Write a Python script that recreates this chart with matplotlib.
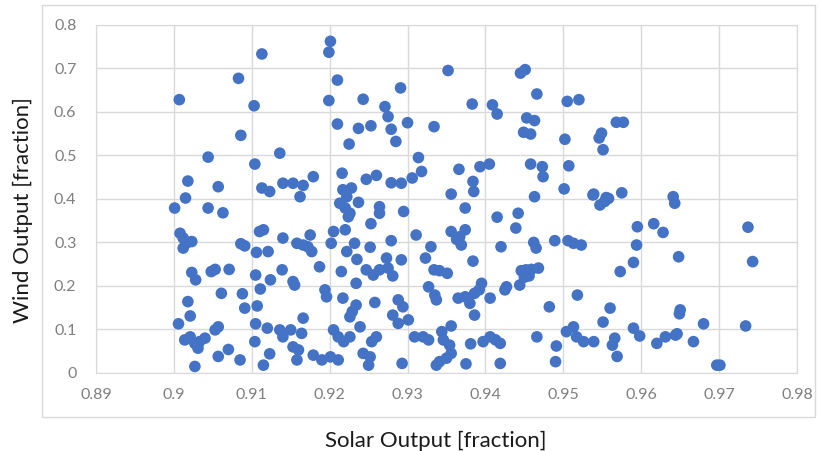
import numpy as np
import matplotlib.pyplot as plt
from matplotlib.patches import Rectangle

plt.rcParams['font.family'] = ['Lato', 'DejaVu Sans']

# solar vs wind output pairs
solar = [
    0.9113, 0.9083, 0.9007, 0.9103, 0.9086, 0.9044, 0.9136, 0.9104, 0.9018, 0.9057, 0.9113, 0.9123, 0.9140, 0.9015,
    0.9201, 0.9199, 0.9210, 0.9199, 0.9243, 0.9291, 0.9271, 0.9275, 0.9279, 0.9285, 0.9300, 0.9210, 0.9237, 0.9253,
    0.9225, 0.9314, 0.9216, 0.9179, 0.9153, 0.9166, 0.9162, 0.9247, 0.9260, 0.9279, 0.9292, 0.9306, 0.9217, 0.9228, 0.9222,
    0.9352, 0.9445, 0.9451, 0.9466, 0.9383, 0.9409, 0.9415, 0.9453, 0.9463, 0.9449, 0.9458, 0.9334, 0.9318, 0.9366,
    0.9393, 0.9405, 0.9384, 0.9385, 0.9356, 0.9458, 0.9473, 0.9474, 0.9463,
    0.9505, 0.9520, 0.9568, 0.9577, 0.9549, 0.9546, 0.9551, 0.9502, 0.9507, 0.9501, 0.9539, 0.9555, 0.9575, 0.9641,
    0.9001, 0.9044, 0.9063, 0.9008, 0.9012, 0.9016, 0.9023, 0.9012, 0.9110, 0.9115, 0.9140, 0.9086, 0.9091, 0.9106,
    0.9121, 0.9023, 0.9028, 0.9048, 0.9053, 0.9071, 0.9105, 0.9111, 0.9124, 0.9139, 0.9061, 0.9088, 0.9018, 0.9091,
    0.9107, 0.9021, 0.9006, 0.9057, 0.9053, 0.9105, 0.9120, 0.9136, 0.9014, 0.9021, 0.9027, 0.9033, 0.9040, 0.9031,
    0.9140, 0.9104, 0.9070, 0.9057, 0.9085, 0.9123, 0.9115, 0.9027,
    0.9213, 0.9220, 0.9226, 0.9224, 0.9237, 0.9264, 0.9264, 0.9295, 0.9253, 0.9158, 0.9166, 0.9175, 0.9177, 0.9172,
    0.9205, 0.9202, 0.9220, 0.9222, 0.9232, 0.9252, 0.9279, 0.9311, 0.9235, 0.9187, 0.9215, 0.9247, 0.9256, 0.9264,
    0.9273, 0.9275, 0.9281, 0.9292, 0.9153, 0.9155, 0.9234, 0.9194, 0.9196, 0.9217, 0.9234, 0.9229, 0.9226, 0.9258,
    0.9288, 0.9294, 0.9281, 0.9288, 0.9301, 0.9166, 0.9150, 0.9164, 0.9153, 0.9160, 0.9158, 0.9205, 0.9211, 0.9218,
    0.9226, 0.9239, 0.9260, 0.9254, 0.9243, 0.9252, 0.9250, 0.9179, 0.9190, 0.9201, 0.9211, 0.9293, 0.9309,
    0.9374, 0.9415, 0.9442, 0.9439, 0.9356, 0.9367, 0.9374, 0.9363, 0.9369, 0.9330, 0.9420, 0.9462, 0.9465, 0.9323,
    0.9384, 0.9334, 0.9341, 0.9351, 0.9446, 0.9452, 0.9459, 0.9468, 0.9444, 0.9450, 0.9456, 0.9327, 0.9335, 0.9337,
    0.9395, 0.9392, 0.9386, 0.9427, 0.9425, 0.9365, 0.9374, 0.9380, 0.9406, 0.9386, 0.9320, 0.9327, 0.9344, 0.9346,
    0.9356, 0.9354, 0.9356, 0.9350, 0.9341, 0.9337, 0.9381, 0.9375, 0.9397, 0.9406, 0.9413, 0.9419, 0.9419, 0.9466, 0.9482,
    0.9538, 0.9547, 0.9553, 0.9558, 0.9643, 0.9595, 0.9616, 0.9628, 0.9489, 0.9506, 0.9513, 0.9523, 0.9594, 0.9590,
    0.9573, 0.9648, 0.9518, 0.9560, 0.9551, 0.9504, 0.9513, 0.9517, 0.9526, 0.9539, 0.9491, 0.9490, 0.9566, 0.9563,
    0.9569, 0.9590, 0.9598, 0.9620, 0.9631, 0.9646,
    0.9737, 0.9743, 0.9650, 0.9649, 0.9680, 0.9734, 0.9644, 0.9667, 0.9697, 0.9701,
]
wind = [
    0.733, 0.677, 0.628, 0.614, 0.546, 0.496, 0.505, 0.480, 0.441, 0.428, 0.425, 0.417, 0.436, 0.402,
    0.762, 0.737, 0.673, 0.626, 0.629, 0.655, 0.612, 0.589, 0.560, 0.532, 0.575, 0.572, 0.562, 0.568,
    0.526, 0.495, 0.459, 0.451, 0.436, 0.431, 0.405, 0.445, 0.454, 0.437, 0.436, 0.448, 0.421, 0.425, 0.405,
    0.695, 0.689, 0.697, 0.641, 0.618, 0.616, 0.595, 0.586, 0.580, 0.553, 0.549, 0.566, 0.463, 0.468,
    0.474, 0.480, 0.440, 0.417, 0.411, 0.480, 0.474, 0.451, 0.405,
    0.624, 0.628, 0.576, 0.576, 0.551, 0.540, 0.513, 0.537, 0.476, 0.423, 0.411, 0.403, 0.414, 0.405,
    0.379, 0.379, 0.368, 0.321, 0.310, 0.298, 0.302, 0.287, 0.325, 0.329, 0.310, 0.297, 0.292, 0.277,
    0.279, 0.231, 0.214, 0.233, 0.238, 0.238, 0.225, 0.193, 0.214, 0.237, 0.183, 0.182, 0.164, 0.149,
    0.154, 0.131, 0.113, 0.106, 0.099, 0.113, 0.103, 0.099, 0.076, 0.083, 0.068, 0.072, 0.080, 0.057,
    0.083, 0.072, 0.054, 0.038, 0.030, 0.044, 0.018, 0.015,
    0.390, 0.379, 0.367, 0.359, 0.392, 0.382, 0.367, 0.371, 0.343, 0.298, 0.294, 0.317, 0.279, 0.290,
    0.325, 0.298, 0.329, 0.279, 0.298, 0.289, 0.304, 0.317, 0.261, 0.244, 0.233, 0.237, 0.225, 0.237,
    0.264, 0.241, 0.223, 0.260, 0.210, 0.202, 0.206, 0.191, 0.175, 0.172, 0.156, 0.141, 0.129, 0.162,
    0.168, 0.152, 0.133, 0.114, 0.122, 0.126, 0.099, 0.091, 0.060, 0.053, 0.030, 0.099, 0.083, 0.072,
    0.083, 0.106, 0.083, 0.072, 0.045, 0.037, 0.018, 0.041, 0.030, 0.037, 0.030, 0.022, 0.083,
    0.379, 0.358, 0.367, 0.333, 0.325, 0.313, 0.329, 0.307, 0.294, 0.290, 0.290, 0.300, 0.287, 0.264,
    0.257, 0.237, 0.235, 0.229, 0.235, 0.237, 0.238, 0.241, 0.202, 0.220, 0.223, 0.198, 0.179, 0.168,
    0.206, 0.191, 0.183, 0.198, 0.191, 0.172, 0.175, 0.160, 0.172, 0.133, 0.083, 0.076, 0.095, 0.076,
    0.108, 0.064, 0.045, 0.034, 0.026, 0.018, 0.067, 0.021, 0.072, 0.083, 0.076, 0.068, 0.022, 0.083, 0.152,
    0.409, 0.386, 0.394, 0.401, 0.390, 0.336, 0.343, 0.323, 0.304, 0.304, 0.298, 0.294, 0.294, 0.254,
    0.233, 0.267, 0.179, 0.149, 0.117, 0.095, 0.106, 0.083, 0.072, 0.072, 0.062, 0.026, 0.080, 0.064,
    0.038, 0.103, 0.085, 0.068, 0.083, 0.090,
    0.335, 0.256, 0.145, 0.136, 0.113, 0.108, 0.087, 0.072, 0.018, 0.018,
]

x_ticks = [0.89, 0.9, 0.91, 0.92, 0.93, 0.94, 0.95, 0.96, 0.97, 0.98]
x_ticklabels = ['0.89', '0.9', '0.91', '0.92', '0.93', '0.94', '0.95', '0.96', '0.97', '0.98']
y_ticks = [0, 0.1, 0.2, 0.3, 0.4, 0.5, 0.6, 0.7, 0.8]
y_ticklabels = ['0', '0.1', '0.2', '0.3', '0.4', '0.5', '0.6', '0.7', '0.8']

grid_col = '#D9D9D9'
text_col = '#7F7F7F'

fig = plt.figure(figsize=(8.2, 4.51), dpi=100)
ax = fig.add_axes([0.117, 0.173, 0.855, 0.772])

ax.scatter(solar, wind, s=70, color='#4472C4', edgecolors='none', zorder=3)

ax.set_xlim(0.89, 0.98)
ax.set_ylim(0, 0.8)
ax.set_xticks(x_ticks)
ax.set_xticklabels(x_ticklabels)
ax.set_yticks(y_ticks)
ax.set_yticklabels(y_ticklabels)
ax.tick_params(length=0, labelsize=11.5, labelcolor=text_col)
ax.tick_params(axis='x', pad=11)
ax.tick_params(axis='y', pad=14)
ax.grid(True, color=grid_col, linewidth=1, zorder=0)
for sp in ax.spines.values():
    sp.set_color(grid_col)

ax.set_xlabel('Solar Output [fraction]', fontsize=16, color='#1a1a1a')
ax.set_ylabel('Wind Output [fraction]', fontsize=16, color='#1a1a1a')
ax.xaxis.set_label_coords(0.484, -0.165)
ax.yaxis.set_label_coords(-0.09, 0.468)

# outer chart frame
fig.patches.append(Rectangle((0.051, 0.075), 0.943, 0.914, transform=fig.transFigure,
                             fill=False, edgecolor=grid_col, linewidth=1))

fig.savefig('out.png', dpi=100)
